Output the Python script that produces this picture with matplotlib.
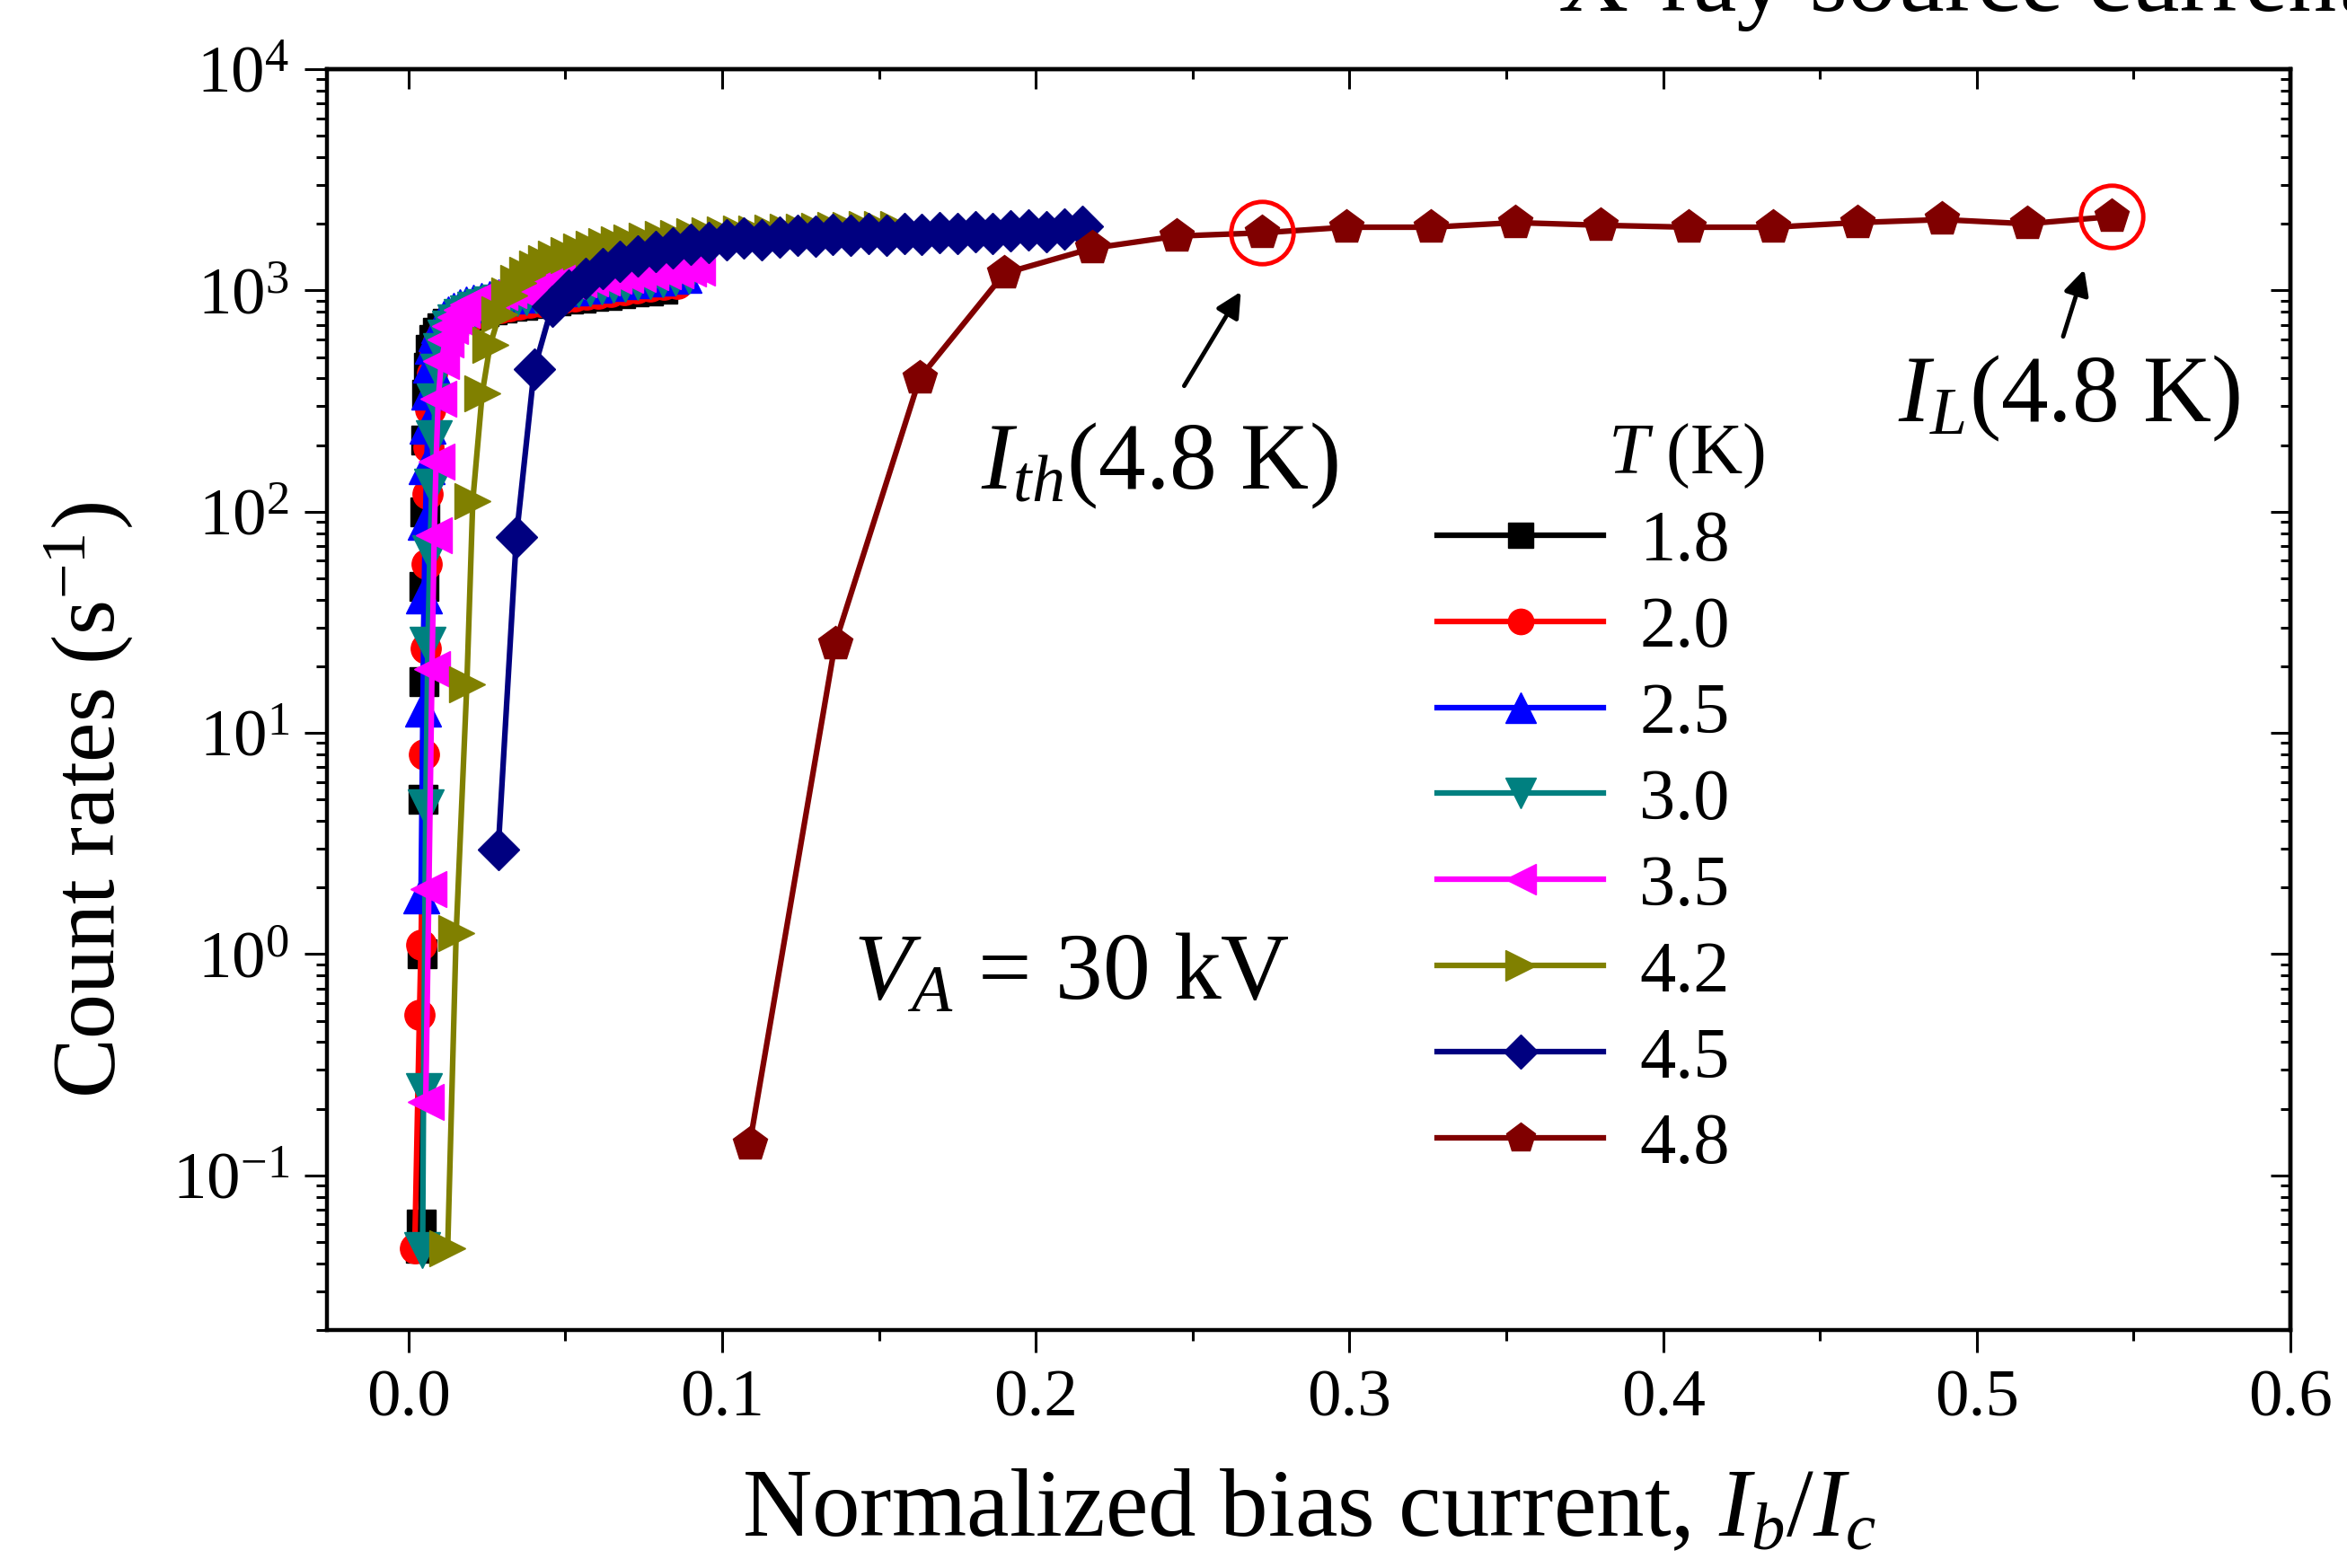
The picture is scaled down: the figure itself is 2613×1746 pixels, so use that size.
import matplotlib.pyplot as plt
from matplotlib.ticker import MultipleLocator, LogLocator, NullFormatter, FormatStrFormatter

plt.rcParams.update({
    'font.family': 'Liberation Serif',
    'mathtext.fontset': 'custom',
    'mathtext.rm': 'Liberation Serif',
    'mathtext.it': 'Liberation Serif:italic',
    'mathtext.bf': 'Liberation Serif:bold',
})

# T = 1.8 K
x18 = [0.0038, 0.0040, 0.0044, 0.0046, 0.0048, 0.0050, 0.0052, 0.0055, 0.0058, 0.0063,
       0.0070, 0.0080, 0.0093, 0.0108, 0.0125, 0.0144, 0.0165, 0.0188, 0.0213, 0.0240,
       0.0268, 0.0298, 0.0330, 0.0363, 0.0398, 0.0434, 0.0471, 0.0510, 0.0550, 0.0591,
       0.0633, 0.0676, 0.0720, 0.0765, 0.0810]
y18 = [0.047, 0.060, 1.0, 5.0, 17, 46, 100, 210, 340, 450,
       540, 600, 645, 680, 708, 732, 752, 770, 787, 802,
       817, 831, 845, 858, 871, 884, 897, 910, 924, 938,
       952, 966, 981, 996, 1012]

# T = 2.0 K
x20 = [0.0020, 0.0035, 0.0040, 0.0050, 0.0054, 0.0058, 0.0061, 0.0065, 0.0070, 0.0076,
       0.0085, 0.0096, 0.0110, 0.0126, 0.0144, 0.0164, 0.0186, 0.0210, 0.0236, 0.0263,
       0.0292, 0.0322, 0.0354, 0.0387, 0.0421, 0.0456, 0.0492, 0.0529, 0.0567, 0.0606,
       0.0646, 0.0687, 0.0729, 0.0772, 0.0815, 0.0858]
y20 = [0.047, 0.53, 1.1, 8.0, 24, 58, 120, 195, 290, 420,
       520, 590, 640, 680, 712, 738, 760, 780, 798, 815,
       831, 847, 862, 877, 892, 907, 922, 938, 954, 970,
       987, 1004, 1022, 1040, 1058, 1076]

# T = 2.5 K
x25 = [0.0040, 0.0046, 0.0050, 0.0054, 0.0058, 0.0062, 0.0066, 0.0072, 0.0079, 0.0088,
       0.0099, 0.0112, 0.0127, 0.0144, 0.0163, 0.0184, 0.0207, 0.0232, 0.0258, 0.0286,
       0.0315, 0.0346, 0.0378, 0.0411, 0.0445, 0.0480, 0.0516, 0.0553, 0.0591, 0.0630,
       0.0670, 0.0711, 0.0752, 0.0794, 0.0836, 0.0878]
y25 = [1.85, 12.9, 42, 90, 160, 245, 350, 460, 560, 640,
       700, 745, 782, 812, 838, 860, 880, 898, 915, 931,
       946, 961, 976, 991, 1006, 1021, 1036, 1051, 1066, 1082,
       1098, 1114, 1130, 1146, 1162, 1178]

# T = 3.0 K
x30 = [0.0045, 0.0048, 0.0055, 0.0062, 0.0068, 0.0075, 0.0080, 0.0085, 0.0094, 0.0105,
       0.0118, 0.0133, 0.0150, 0.0169, 0.0190, 0.0213, 0.0237, 0.0263, 0.0290, 0.0318,
       0.0347, 0.0377, 0.0408, 0.0440, 0.0473, 0.0507, 0.0542, 0.0578, 0.0615, 0.0653,
       0.0692, 0.0732, 0.0772, 0.0812, 0.0852, 0.0895]
y30 = [0.046, 0.24, 4.6, 25, 65, 130, 215, 316, 430, 530,
       610, 670, 718, 758, 790, 818, 842, 864, 884, 902,
       919, 935, 951, 966, 981, 996, 1011, 1026, 1042, 1058,
       1074, 1090, 1106, 1122, 1140, 1160]

# T = 3.5 K
x35 = [0.0055, 0.0065, 0.0075, 0.0082, 0.0088, 0.0095, 0.0105, 0.0118, 0.0133, 0.0150,
       0.0169, 0.0190, 0.0213, 0.0237, 0.0263, 0.0290, 0.0318, 0.0347, 0.0377, 0.0408,
       0.0440, 0.0473, 0.0507, 0.0542, 0.0578, 0.0615, 0.0653, 0.0692, 0.0732, 0.0772,
       0.0812, 0.0852, 0.0890, 0.0920]
y35 = [0.215, 1.96, 19.5, 78, 168, 325, 480, 600, 690, 760,
       815, 860, 898, 930, 958, 982, 1004, 1024, 1042, 1059,
       1075, 1090, 1105, 1120, 1134, 1148, 1162, 1176, 1190, 1205,
       1220, 1236, 1252, 1270]

# T = 4.2 K
x42 = [0.0125, 0.0152, 0.0186, 0.0205, 0.0235, 0.0260, 0.0290, 0.0320, 0.0350, 0.0380,
       0.0410, 0.0440, 0.0470, 0.0510, 0.0550, 0.0590, 0.0630, 0.0670, 0.0710, 0.0760,
       0.0810, 0.0860, 0.0910, 0.0960, 0.1010, 0.1060, 0.1110, 0.1160, 0.1210, 0.1260,
       0.1310, 0.1360, 0.1410, 0.1460, 0.1510, 0.1560]
y42 = [0.047, 1.24, 16.5, 112, 342, 565, 780, 950, 1080, 1180,
       1260, 1330, 1390, 1450, 1500, 1545, 1585, 1620, 1650, 1680,
       1705, 1730, 1750, 1770, 1785, 1800, 1812, 1825, 1836, 1848,
       1858, 1868, 1878, 1886, 1895, 1902]

# T = 4.5 K
x45 = [0.0286, 0.0344, 0.0401, 0.0458, 0.0510, 0.0565, 0.0620, 0.0675, 0.0730, 0.0787,
       0.0843, 0.0900, 0.0957, 0.1013, 0.1070, 0.1127, 0.1183, 0.1240, 0.1297, 0.1353,
       0.1410, 0.1467, 0.1523, 0.1580, 0.1637, 0.1693, 0.1750, 0.1807, 0.1863, 0.1920,
       0.1977, 0.2033, 0.2090, 0.2148]
y45 = [2.97, 77, 442, 850, 1000, 1130, 1250, 1350, 1430, 1500,
       1560, 1610, 1650, 1690, 1720, 1700, 1745, 1775, 1750, 1790,
       1770, 1805, 1775, 1815, 1790, 1830, 1800, 1845, 1815, 1860,
       1880, 1850, 1900, 1940]

# T = 4.8 K
x48 = [0.1088, 0.1360, 0.1630, 0.1900, 0.2180, 0.2450, 0.2720, 0.2990, 0.3260, 0.3530,
       0.3800, 0.4080, 0.4350, 0.4620, 0.4890, 0.5160, 0.5430]
y48 = [0.139, 25.3, 402, 1194, 1550, 1760, 1820, 1930, 1930, 2025,
       1970, 1930, 1930, 2025, 2090, 2000, 2155]

ith_idx = 6
il_idx = 16

series = [
    (x18, y18, '1.8', 'black', 's', 23),
    (x20, y20, '2.0', 'red', 'o', 24),
    (x25, y25, '2.5', 'blue', '^', 29),
    (x30, y30, '3.0', '#008080', 'v', 29),
    (x35, y35, '3.5', 'magenta', '<', 29),
    (x42, y42, '4.2', '#808000', '>', 29),
    (x45, y45, '4.5', '#000080', 'D', 23),
    (x48, y48, '4.8', '#800000', 'p', 29),
]

fig = plt.figure(figsize=(26.13, 17.46), dpi=100)
ax = fig.add_axes([0.1393, 0.1518, 0.8366, 0.8041])

for x, y, lab, c, m, ms in series:
    ax.plot(x, y, color=c, marker=m, ms=ms, lw=4.5, mec=c, label=lab)

# highlighted points of the 4.8 K curve
ax.plot([x48[ith_idx], x48[il_idx]], [y48[ith_idx], y48[il_idx]], 'o',
        mfc='none', mec='red', ms=50, mew=3.5)

ax.set_yscale('log')
ax.set_xlim(-0.026, 0.6)
ax.set_ylim(0.02, 1e4)

ax.xaxis.set_major_locator(MultipleLocator(0.1))
ax.xaxis.set_minor_locator(MultipleLocator(0.05))
ax.xaxis.set_major_formatter(FormatStrFormatter('%.1f'))
ax.yaxis.set_major_locator(LogLocator(base=10, numticks=20))
ax.yaxis.set_minor_locator(LogLocator(base=10, subs=range(2, 10), numticks=20))
ax.yaxis.set_minor_formatter(NullFormatter())
ax.tick_params(which='major', direction='out', length=18, width=2.2, labelsize=54)
ax.tick_params(axis='x', which='major', pad=14)
ax.tick_params(axis='y', which='major', pad=12)
ax.tick_params(which='minor', direction='out', length=8.5, width=2.2)
for s in ax.spines.values():
    s.set_linewidth(3.2)

secx = ax.secondary_xaxis('top')
secx.xaxis.set_major_locator(MultipleLocator(0.1))
secx.xaxis.set_minor_locator(MultipleLocator(0.05))
secx.xaxis.set_major_formatter(NullFormatter())
secx.tick_params(which='major', direction='in', length=16, width=2.2)
secx.tick_params(which='minor', direction='in', length=8, width=2.2)
secx.spines['top'].set_linewidth(3.2)

secy = ax.secondary_yaxis('right')
secy.yaxis.set_major_locator(LogLocator(base=10, numticks=20))
secy.yaxis.set_minor_locator(LogLocator(base=10, subs=range(2, 10), numticks=20))
secy.yaxis.set_major_formatter(NullFormatter())
secy.yaxis.set_minor_formatter(NullFormatter())
secy.tick_params(which='major', direction='in', length=16, width=2.2)
secy.tick_params(which='minor', direction='in', length=8, width=2.2)
secy.spines['right'].set_linewidth(3.2)

ax.set_xlabel(r'Normalized bias current, $I_b/I_c$', fontsize=77)
ax.xaxis.set_label_coords(0.5, -0.11)
ax.set_ylabel(r'Count rates (s$^{-1}$)', fontsize=72)
ax.yaxis.set_label_coords(-0.098, 0.42)

ax.annotate('', xy=(0.2658, 1009), xytext=(0.2469, 362),
            arrowprops=dict(arrowstyle='-|>', color='black', lw=3.5, mutation_scale=42))
ax.annotate('', xy=(0.5345, 1274), xytext=(0.5273, 604),
            arrowprops=dict(arrowstyle='-|>', color='black', lw=3.5, mutation_scale=42))
ax.text(0.1824, 127, r'$I_{th}$(4.8 K)', fontsize=76, va='baseline')
ax.text(0.4749, 256, r'$I_L$(4.8 K)', fontsize=76, va='baseline')
ax.text(0.1418, 0.627, r'$V_A$ = 30 kV', fontsize=76, va='baseline')

leg = ax.legend(loc='upper left', bbox_to_anchor=(0.6123, 0.675),
                bbox_transform=fig.transFigure, frameon=False, fontsize=58,
                handlelength=2.3, handletextpad=0.5, labelspacing=0.28,
                borderpad=0, borderaxespad=0, markerscale=0.85)
fig.text(0.7185, 0.6985, r'$T$ (K)', fontsize=58, ha='center', va='baseline')

fig.text(0.664, 0.9931, 'X-ray source current', fontsize=78, ha='left', va='baseline')

fig.savefig('out.png', dpi=100)
